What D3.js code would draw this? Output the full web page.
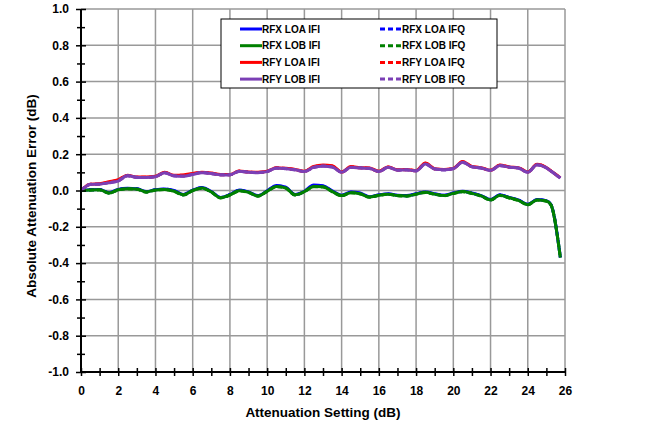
<!DOCTYPE html>
<html>
<head>
<meta charset="utf-8">
<script src="https://cdn.jsdelivr.net/npm/d3@7"></script>
<style>
body { margin: 0; background: #fff; }
text { font-family: Arial, "Liberation Sans", sans-serif; font-weight: bold; fill: #000; }
</style>
</head>
<body>
<script>
// attenuation setting (dB)
const attenuation = [0,0.5,1,1.5,2,2.5,3,3.5,4,4.5,5,5.5,6,6.5,7,7.5,8,8.5,9,9.5,10,10.5,11,11.5,12,12.5,13,13.5,14,14.5,15,15.5,16,16.5,17,17.5,18,18.5,19,19.5,20,20.5,21,21.5,22,22.5,23,23.5,24,24.5,25,25.25,25.75];

// absolute attenuation error (dB)
const rfxLoaIfi = [0.000,0.004,0.005,-0.012,0.006,0.012,0.010,-0.006,0.004,0.008,0.000,-0.022,0.002,0.016,-0.006,-0.038,-0.022,0.003,-0.008,-0.028,-0.002,0.028,0.018,-0.022,-0.004,0.030,0.026,-0.002,-0.026,-0.008,-0.014,-0.034,-0.024,-0.018,-0.026,-0.028,-0.018,-0.008,-0.018,-0.026,-0.014,-0.004,-0.014,-0.028,-0.050,-0.024,-0.038,-0.052,-0.076,-0.050,-0.056,-0.078,-0.368];
const rfxLoaIfq = [0.000,0.004,0.005,-0.013,0.005,0.011,0.009,-0.007,0.004,0.007,-0.001,-0.023,0.001,0.015,-0.007,-0.039,-0.023,0.001,-0.009,-0.029,-0.003,0.026,0.016,-0.023,-0.005,0.028,0.024,-0.004,-0.027,-0.010,-0.016,-0.035,-0.025,-0.019,-0.027,-0.029,-0.019,-0.009,-0.019,-0.027,-0.015,-0.005,-0.015,-0.029,-0.051,-0.025,-0.039,-0.053,-0.077,-0.051,-0.057,-0.079,-0.369];
const rfxLobIfi = [0.000,0.003,0.004,-0.014,0.004,0.010,0.008,-0.008,0.003,0.006,-0.004,-0.024,0.000,0.014,-0.008,-0.040,-0.024,-0.002,-0.010,-0.030,-0.004,0.022,0.014,-0.024,-0.006,0.022,0.020,-0.006,-0.028,-0.012,-0.018,-0.036,-0.026,-0.020,-0.028,-0.030,-0.020,-0.010,-0.020,-0.028,-0.016,-0.006,-0.016,-0.030,-0.052,-0.026,-0.040,-0.054,-0.078,-0.052,-0.058,-0.080,-0.370];
const rfxLobIfq = [0.000,0.002,0.003,-0.015,0.003,0.009,0.007,-0.009,0.002,0.005,-0.005,-0.025,-0.001,0.013,-0.009,-0.041,-0.025,-0.003,-0.011,-0.031,-0.005,0.021,0.013,-0.025,-0.007,0.021,0.019,-0.007,-0.029,-0.013,-0.019,-0.037,-0.027,-0.021,-0.029,-0.031,-0.021,-0.011,-0.021,-0.029,-0.017,-0.007,-0.017,-0.031,-0.053,-0.027,-0.041,-0.055,-0.079,-0.053,-0.059,-0.081,-0.371];
const rfyLoaIfi = [0.000,0.035,0.037,0.048,0.060,0.084,0.074,0.074,0.078,0.100,0.084,0.086,0.094,0.100,0.096,0.088,0.088,0.108,0.102,0.100,0.106,0.126,0.122,0.116,0.106,0.132,0.140,0.136,0.102,0.132,0.126,0.124,0.106,0.130,0.114,0.116,0.110,0.152,0.120,0.116,0.122,0.160,0.132,0.126,0.112,0.140,0.130,0.126,0.102,0.144,0.126,0.108,0.070];
const rfyLoaIfq = [0.000,0.034,0.036,0.046,0.058,0.083,0.073,0.073,0.077,0.099,0.083,0.084,0.092,0.099,0.095,0.087,0.087,0.107,0.101,0.099,0.105,0.125,0.121,0.115,0.105,0.130,0.138,0.134,0.101,0.130,0.125,0.123,0.105,0.129,0.113,0.115,0.109,0.150,0.119,0.115,0.121,0.158,0.131,0.125,0.111,0.139,0.129,0.125,0.101,0.143,0.125,0.107,0.069];
const rfyLobIfi = [0.000,0.033,0.035,0.042,0.052,0.082,0.072,0.072,0.076,0.098,0.080,0.078,0.088,0.098,0.094,0.086,0.086,0.106,0.100,0.098,0.104,0.124,0.120,0.114,0.104,0.128,0.134,0.130,0.100,0.128,0.124,0.122,0.104,0.128,0.112,0.114,0.108,0.146,0.118,0.114,0.120,0.156,0.130,0.124,0.110,0.138,0.128,0.124,0.100,0.142,0.124,0.106,0.068];
const rfyLobIfq = [0.000,0.034,0.036,0.043,0.053,0.080,0.073,0.071,0.077,0.097,0.081,0.079,0.089,0.099,0.093,0.087,0.087,0.105,0.101,0.099,0.105,0.123,0.121,0.113,0.105,0.127,0.135,0.129,0.101,0.127,0.125,0.121,0.105,0.127,0.113,0.113,0.109,0.145,0.119,0.113,0.121,0.155,0.131,0.123,0.111,0.137,0.129,0.123,0.101,0.141,0.125,0.107,0.069];

const seriesNames = ['RFX LOA IFI','RFX LOA IFQ','RFX LOB IFI','RFX LOB IFQ','RFY LOA IFI','RFY LOA IFQ','RFY LOB IFI','RFY LOB IFQ'];

const xTicks = [0,2,4,6,8,10,12,14,16,18,20,22,24,26];
const xMinor = [1,3,5,7,9,11,13,15,17,19,21,23,25];
const yTicks = [-1.0,-0.8,-0.6,-0.4,-0.2,0.0,0.2,0.4,0.6,0.8,1.0];
const yMinor = [-0.9,-0.7,-0.5,-0.3,-0.1,0.1,0.3,0.5,0.7,0.9];

const w = 648;
const h = 429;
const pLeft = 81, pRight = 565, pTop = 9, pBottom = 372;

const series = [
  {name: seriesNames[0], values: rfxLoaIfi, color: '#0000ff', dash: null},
  {name: seriesNames[1], values: rfxLoaIfq, color: '#0000ff', dash: '5,3'},
  {name: seriesNames[4], values: rfyLoaIfi, color: '#ff0000', dash: null},
  {name: seriesNames[5], values: rfyLoaIfq, color: '#ff0000', dash: '5,3'},
  {name: seriesNames[2], values: rfxLobIfi, color: '#008000', dash: null},
  {name: seriesNames[3], values: rfxLobIfq, color: '#008000', dash: '5,3'},
  {name: seriesNames[6], values: rfyLobIfi, color: '#7b3fb5', dash: null},
  {name: seriesNames[7], values: rfyLobIfq, color: '#7b3fb5', dash: '5,3'}
];

const svg = d3.select('body').append('svg').attr('width', w).attr('height', h);

const x = d3.scaleLinear().domain([0, 26]).range([pLeft, pRight]);
const y = d3.scaleLinear().domain([-1, 1]).range([pBottom, pTop]);

// gridlines
svg.append('g').selectAll('line').data(xTicks.filter(d => d > 0)).enter().append('line')
  .attr('x1', d => x(d)).attr('x2', d => x(d)).attr('y1', pTop).attr('y2', pBottom)
  .attr('stroke', '#999').attr('stroke-width', 1.5);
svg.append('g').selectAll('line').data(yTicks.filter(d => d > -1)).enter().append('line')
  .attr('x1', pLeft).attr('x2', pRight).attr('y1', d => y(d)).attr('y2', d => y(d))
  .attr('stroke', '#999').attr('stroke-width', 1.5);

// series
const line = d3.line().x((d, i) => x(attenuation[i])).y(d => y(d)).curve(d3.curveMonotoneX);
series.forEach(s => {
  svg.append('path').datum(s.values)
    .attr('d', line)
    .attr('fill', 'none')
    .attr('stroke', s.color)
    .attr('stroke-width', 3)
    .attr('stroke-dasharray', s.dash)
    .attr('stroke-linejoin', 'round');
});

// axes
const xAxis = d3.axisBottom(x).tickValues(xTicks).tickFormat(d => d).tickSize(4).tickPadding(10);
const gx = svg.append('g').attr('transform', 'translate(0,' + pBottom + ')').call(xAxis);
gx.selectAll('.tick line').attr('y1', -4).attr('stroke-width', 1.5);
gx.select('.domain').attr('stroke-width', 2).attr('d', 'M' + pLeft + ',0H' + pRight);
gx.selectAll('text').style('font-size', '12px').style('font-family', 'Arial, "Liberation Sans", sans-serif').style('font-weight', 'bold');

const xAxisMinor = d3.axisBottom(x).tickValues(xMinor).tickFormat('').tickSize(4);
const gxm = svg.append('g').attr('transform', 'translate(0,' + pBottom + ')').call(xAxisMinor);
gxm.selectAll('.tick line').attr('y1', -4).attr('stroke-width', 1.5);
gxm.select('.domain').remove();

const yAxis = d3.axisLeft(y).tickValues(yTicks).tickFormat(d => d.toFixed(1)).tickSize(5).tickPadding(7);
const gy = svg.append('g').attr('transform', 'translate(' + pLeft + ',0)').call(yAxis);
gy.selectAll('.tick line').attr('x1', 5).attr('stroke-width', 1.5);
gy.select('.domain').attr('stroke-width', 2).attr('d', 'M0,' + pTop + 'V' + pBottom);
gy.selectAll('text').style('font-size', '12px').style('font-family', 'Arial, "Liberation Sans", sans-serif').style('font-weight', 'bold');

const yAxisMinor = d3.axisLeft(y).tickValues(yMinor).tickFormat('').tickSize(4);
const gym = svg.append('g').attr('transform', 'translate(' + pLeft + ',0)').call(yAxisMinor);
gym.selectAll('.tick line').attr('x1', 4).attr('stroke-width', 1.5);
gym.select('.domain').remove();

// axis titles
svg.append('text')
  .attr('text-anchor', 'middle')
  .attr('x', (pLeft + pRight) / 2)
  .attr('y', 417)
  .style('font-size', '13.5px')
  .text('Attenuation Setting (dB)');

svg.append('text')
  .attr('text-anchor', 'middle')
  .attr('transform', 'translate(36,196) rotate(-90)')
  .style('font-size', '13.5px')
  .text('Absolute Attenuation Error (dB)');

// legend
const legend = svg.append('g');
legend.append('rect').attr('x', 221).attr('y', 19).attr('width', 276).attr('height', 69)
  .attr('fill', '#fff').attr('stroke', '#000').attr('stroke-width', 1);

const legendItems = [
  {name: seriesNames[0], color: '#0000ff', dash: null, col: 0, row: 0},
  {name: seriesNames[1], color: '#0000ff', dash: '5,3', col: 1, row: 0},
  {name: seriesNames[2], color: '#008000', dash: null, col: 0, row: 1},
  {name: seriesNames[3], color: '#008000', dash: '5,3', col: 1, row: 1},
  {name: seriesNames[4], color: '#ff0000', dash: null, col: 0, row: 2},
  {name: seriesNames[5], color: '#ff0000', dash: '5,3', col: 1, row: 2},
  {name: seriesNames[6], color: '#7b3fb5', dash: null, col: 0, row: 3},
  {name: seriesNames[7], color: '#7b3fb5', dash: '5,3', col: 1, row: 3}
];
legendItems.forEach(it => {
  const lx = it.col === 0 ? 240 : 380;
  const ly = 29 + it.row * 16.7;
  legend.append('line').attr('x1', lx).attr('x2', lx + 22).attr('y1', ly).attr('y2', ly)
    .attr('stroke', it.color).attr('stroke-width', 3).attr('stroke-dasharray', it.dash);
  legend.append('text').attr('x', lx + 22).attr('y', ly).attr('dy', '0.35em')
    .style('font-size', '10px').text(it.name);
});
</script>
</body>
</html>
